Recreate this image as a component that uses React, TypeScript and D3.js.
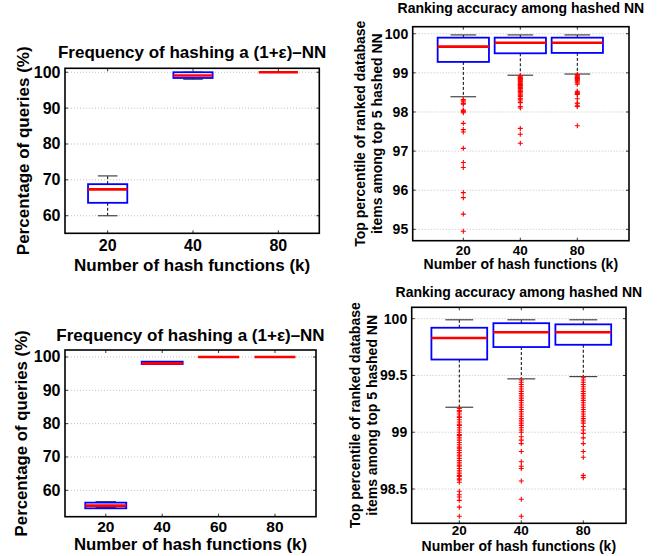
import React from 'react';
import * as d3 from 'd3';

// x categories: number of hash functions (k)
const kTop = ['20', '40', '80'];
const kBottom = ['20', '40', '60', '80'];

// top-left: frequency of hashing a (1+eps)-NN
const freqTopLow = [60, 98.05, 100];
const freqTopQ1 = [63.6, 98.4, 100];
const freqTopMedian = [67.35, 99.1, 100];
const freqTopQ3 = [68.8, 100, 100];
const freqTopHigh = [71.1, 100, 100];

// bottom-left
const freqBotLow = [54.8, 97.9, 100, 100];
const freqBotQ1 = [54.6, 97.9, 100, 100];
const freqBotMedian = [55.4, 98.1, 100, 100];
const freqBotQ3 = [56.3, 98.6, 100, 100];
const freqBotHigh = [56.6, 98.6, 100, 100];

// top-right: ranking accuracy among hashed NN
const rankTopLow = [98.39, 98.94, 98.97];
const rankTopQ1 = [99.28, 99.5, 99.51];
const rankTopMedian = [99.67, 99.77, 99.77];
const rankTopQ3 = [99.9, 99.9, 99.9];
const rankTopHigh = [99.97, 99.97, 99.97];
const rankTopOutliers20 = [
  98.32, 98.3, 98.26, 98.22, 98.2, 98.05, 98.03, 98.01, 97.98, 97.71, 97.55, 97.49, 97.07, 96.71, 96.58,
  95.94, 95.81, 95.39, 94.95,
];
const rankTopOutliers40 = [
  98.93, 98.9, 98.88, 98.86, 98.84, 98.82, 98.8, 98.78, 98.76, 98.73, 98.7, 98.68, 98.66, 98.63, 98.6,
  98.57, 98.54, 98.52, 98.49, 98.46, 98.43, 98.4, 98.35, 98.33, 98.28, 98.24, 98.14, 98.1, 97.58, 97.43,
  97.2,
];
const rankTopOutliers80 = [
  98.96, 98.94, 98.92, 98.9, 98.88, 98.86, 98.84, 98.82, 98.8, 98.77, 98.74, 98.71, 98.53, 98.51, 98.49,
  98.47, 98.45, 98.34, 98.23, 98.21, 98.16, 98.14, 97.65,
];

// bottom-right
const rankBotLow = [99.22, 99.47, 99.49];
const rankBotQ1 = [99.64, 99.75, 99.77];
const rankBotMedian = [99.83, 99.88, 99.88];
const rankBotQ3 = [99.92, 99.96, 99.95];
const rankBotHigh = [99.99, 99.99, 99.99];
const rankBotOutliers20 = [
  99.21, 99.19, 99.18, 99.16, 99.14, 99.13, 99.11, 99.09, 99.07, 99.06, 99.04, 99.02, 99.0, 98.98, 98.97,
  98.95, 98.93, 98.91, 98.89, 98.87, 98.86, 98.84, 98.82, 98.8, 98.79, 98.77, 98.75, 98.73, 98.71, 98.7,
  98.68, 98.66, 98.64, 98.62, 98.61, 98.59, 98.58, 98.56, 98.48, 98.45, 98.43, 98.4, 98.34, 98.26,
];
const rankBotOutliers40 = [
  99.46, 99.44, 99.42, 99.4, 99.38, 99.36, 99.34, 99.32, 99.3, 99.28, 99.26, 99.24, 99.22, 99.2, 99.18,
  99.16, 99.14, 99.12, 99.1, 99.08, 99.06, 99.04, 99.02, 99.0, 98.96, 98.93, 98.9, 98.83, 98.74, 98.7,
  98.68, 98.57, 98.41, 98.26,
];
const rankBotOutliers80 = [
  99.48, 99.46, 99.44, 99.42, 99.4, 99.38, 99.36, 99.34, 99.32, 99.3, 99.28, 99.26, 99.24, 99.22, 99.2,
  99.18, 99.16, 99.14, 99.12, 99.1, 99.08, 99.05, 99.02, 98.99, 98.95, 98.9, 98.83, 98.78, 98.62, 98.6,
];

// y tick values
const freqTicks = [60, 70, 80, 90, 100];
const rankTopTicks = [95, 96, 97, 98, 99, 100];
const rankBotTicks = [98.5, 99, 99.5, 100];

const FONT = '"Liberation Sans", Arial, Helvetica, sans-serif';

interface BoxStat {
  low: number;
  q1: number;
  median: number;
  q3: number;
  high: number;
  outliers: number[];
}

const makeBoxes = (
  low: number[],
  q1: number[],
  median: number[],
  q3: number[],
  high: number[],
  outliers: number[][] = [],
): BoxStat[] =>
  low.map((l, i) => ({
    low: l,
    q1: q1[i],
    median: median[i],
    q3: q3[i],
    high: high[i],
    outliers: outliers[i] ?? [],
  }));

interface PanelProps {
  left: number;
  top: number;
  right: number;
  bottom: number;
  xDomain: [number, number];
  yDomain: [number, number];
  yTicks: number[];
  categories: string[];
  boxes: BoxStat[];
  boxWidth: number;
  title: string;
  titleY: number;
  titleSize: number;
  yLabel: string[];
  yLabelX: number[];
  labelSize: number;
  yTickSize: number;
  xTickSize: number;
  xTickY: number;
  xLabelY: number;
}

function BoxPanel(p: PanelProps) {
  const x = d3.scaleLinear().domain(p.xDomain).range([p.left, p.right]);
  const y = d3.scaleLinear().domain(p.yDomain).range([p.bottom, p.top]);
  const half = x(1 + p.boxWidth / 2) - x(1);
  const cx = (p.left + p.right) / 2;
  const cy = (p.top + p.bottom) / 2;

  return (
    <g fontFamily={FONT} fontWeight="bold">
      {/* grid lines */}
      {p.yTicks.map((t) => (
        <line
          key={`g${t}`}
          x1={p.left}
          x2={p.right}
          y1={y(t)}
          y2={y(t)}
          stroke="#b0b0b0"
          strokeWidth={0.8}
          strokeDasharray="1 2"
        />
      ))}

      {/* boxes */}
      {p.boxes.map((b, i) => {
        const px = x(i + 1);
        return (
          <g key={`b${i}`}>
            <line x1={px} x2={px} y1={y(b.q3)} y2={y(b.high)} stroke="#000" strokeWidth={1} strokeDasharray="3 2" />
            <line x1={px} x2={px} y1={y(b.q1)} y2={y(b.low)} stroke="#000" strokeWidth={1} strokeDasharray="3 2" />
            <line x1={px - half / 2} x2={px + half / 2} y1={y(b.high)} y2={y(b.high)} stroke="#444" strokeWidth={1.2} />
            <line x1={px - half / 2} x2={px + half / 2} y1={y(b.low)} y2={y(b.low)} stroke="#444" strokeWidth={1.2} />
            {b.q3 > b.q1 && (
              <rect
                x={px - half}
                y={y(b.q3)}
                width={half * 2}
                height={y(b.q1) - y(b.q3)}
                fill="none"
                stroke="#0000ff"
                strokeWidth={1.8}
              />
            )}
            <line x1={px - half} x2={px + half} y1={y(b.median)} y2={y(b.median)} stroke="#ff0000" strokeWidth={2.6} />
            {b.outliers.map((o, j) => (
              <path
                key={j}
                d={`M${px - 2.5},${y(o)}h5M${px},${y(o) - 2.5}v5`}
                stroke="#ff0000"
                strokeWidth={1.1}
                fill="none"
              />
            ))}
          </g>
        );
      })}

      {/* frame */}
      <rect
        x={p.left}
        y={p.top}
        width={p.right - p.left}
        height={p.bottom - p.top}
        fill="none"
        stroke="#000"
        strokeWidth={1.6}
      />

      {/* y ticks */}
      {p.yTicks.map((t) => (
        <g key={`t${t}`}>
          <line x1={p.left} x2={p.left + 3} y1={y(t)} y2={y(t)} stroke="#000" strokeWidth={0.8} />
          <line x1={p.right} x2={p.right - 3} y1={y(t)} y2={y(t)} stroke="#000" strokeWidth={0.8} />
          <text x={p.left - 4.5} y={y(t)} textAnchor="end" dominantBaseline="central" fontSize={p.yTickSize}>
            {String(t)}
          </text>
        </g>
      ))}

      {/* x ticks */}
      {p.categories.map((c, i) => (
        <g key={`x${c}`}>
          <line x1={x(i + 1)} x2={x(i + 1)} y1={p.bottom} y2={p.bottom - 3} stroke="#000" strokeWidth={0.8} />
          <line x1={x(i + 1)} x2={x(i + 1)} y1={p.top} y2={p.top + 3} stroke="#000" strokeWidth={0.8} />
          <text x={x(i + 1)} y={p.xTickY} textAnchor="middle" fontSize={p.xTickSize}>
            {c}
          </text>
        </g>
      ))}

      {/* labels */}
      <text x={cx} y={p.titleY} textAnchor="middle" fontSize={p.titleSize}>
        {p.title}
      </text>
      <text x={cx} y={p.xLabelY} textAnchor="middle" fontSize={p.labelSize}>
        Number of hash functions (k)
      </text>
      {p.yLabel.map((line, i) => (
        <text
          key={line}
          transform={`translate(${p.yLabelX[i]},${cy}) rotate(-90)`}
          textAnchor="middle"
          dominantBaseline="central"
          fontSize={p.labelSize}>
          {line}
        </text>
      ))}
    </g>
  );
}

export default function App() {
  const freqTitle = 'Frequency of hashing a (1+\u03b5)\u2013NN';
  const rankTitle = 'Ranking accuracy among hashed NN';
  const rankYLabel = ['Top percentile of ranked database', 'items among top 5 hashed NN'];

  return (
    <svg width={658} height={556} style={{ position: 'absolute', left: 0, top: 0, background: '#fff' }}>
      <BoxPanel
        left={65}
        top={68.3}
        right={319.3}
        bottom={233.3}
        xDomain={[0.5, 3.48]}
        yDomain={[55.1, 101.1]}
        yTicks={freqTicks}
        categories={kTop}
        boxes={makeBoxes(freqTopLow, freqTopQ1, freqTopMedian, freqTopQ3, freqTopHigh)}
        boxWidth={0.46}
        title={freqTitle}
        titleY={58}
        titleSize={17}
        yLabel={['Percentage of queries (%)']}
        yLabelX={[23]}
        labelSize={17}
        yTickSize={16}
        xTickSize={16}
        xTickY={251}
        xLabelY={270.5}
      />
      <BoxPanel
        left={412.7}
        top={26.7}
        right={629}
        bottom={240.7}
        xDomain={[0.112, 3.907]}
        yDomain={[94.71, 100.18]}
        yTicks={rankTopTicks}
        categories={kTop}
        boxes={makeBoxes(rankTopLow, rankTopQ1, rankTopMedian, rankTopQ3, rankTopHigh, [
          rankTopOutliers20,
          rankTopOutliers40,
          rankTopOutliers80,
        ])}
        boxWidth={0.9}
        title={rankTitle}
        titleY={13.3}
        titleSize={14}
        yLabel={rankYLabel}
        yLabelX={[360, 376.7]}
        labelSize={14}
        yTickSize={14}
        xTickSize={13.5}
        xTickY={254.5}
        xLabelY={269.3}
      />
      <BoxPanel
        left={65}
        top={350}
        right={316}
        bottom={516.7}
        xDomain={[0.277, 4.727]}
        yDomain={[52.08, 102.1]}
        yTicks={freqTicks}
        categories={kBottom}
        boxes={makeBoxes(freqBotLow, freqBotQ1, freqBotMedian, freqBotQ3, freqBotHigh)}
        boxWidth={0.727}
        title={freqTitle}
        titleY={340.5}
        titleSize={17}
        yLabel={['Percentage of queries (%)']}
        yLabelX={[21.7]}
        labelSize={16.8}
        yTickSize={16}
        xTickSize={15.5}
        xTickY={532}
        xLabelY={550}
      />
      <BoxPanel
        left={411.7}
        top={307.3}
        right={626}
        bottom={523.3}
        xDomain={[0.232, 3.689]}
        yDomain={[98.198, 100.1]}
        yTicks={rankBotTicks}
        categories={kTop}
        boxes={makeBoxes(rankBotLow, rankBotQ1, rankBotMedian, rankBotQ3, rankBotHigh, [
          rankBotOutliers20,
          rankBotOutliers40,
          rankBotOutliers80,
        ])}
        boxWidth={0.9}
        title={rankTitle}
        titleY={296.7}
        titleSize={14}
        yLabel={rankYLabel}
        yLabelX={[355, 371.7]}
        labelSize={14}
        yTickSize={14}
        xTickSize={13.5}
        xTickY={535}
        xLabelY={551}
      />
    </svg>
  );
}
